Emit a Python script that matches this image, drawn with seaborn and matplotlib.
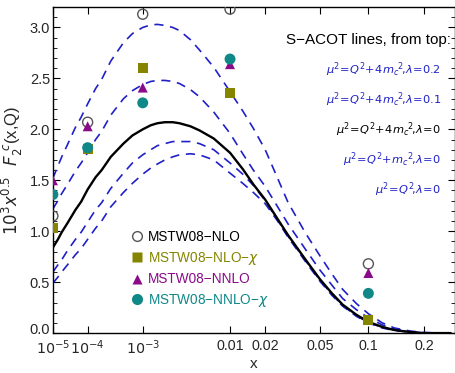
import numpy as np
import pandas as pd
import matplotlib
matplotlib.use("Agg")
import matplotlib.pyplot as plt
import matplotlib.transforms as mtrans
import seaborn as sns
from matplotlib.lines import Line2D

sns.set_theme(style="ticks")
plt.rcParams['font.family'] = ['Liberation Sans', 'DejaVu Sans']
plt.rcParams['mathtext.fontset'] = 'dejavusans'

# ---- data ----
curve_x = [1e-5, 1.5e-5, 2e-5, 3e-5, 5e-5, 7e-5, 1e-4, 1.5e-4, 2e-4, 3e-4, 5e-4, 7e-4,
           1e-3, 1.3e-3, 1.6e-3, 2e-3, 2.5e-3, 3e-3, 4e-3, 5e-3, 7e-3, 0.01, 0.013, 0.016,
           0.02, 0.025, 0.03, 0.04, 0.05, 0.06, 0.07, 0.085, 0.1, 0.12, 0.14, 0.17, 0.2,
           0.24, 0.27]
lam02 = [1.52, 1.64, 1.73, 1.85, 2.02, 2.12, 2.25, 2.40, 2.49, 2.67, 2.85, 2.94,
         3.00, 3.025, 3.03, 3.02, 3.00, 2.97, 2.88, 2.78, 2.61, 2.37, 2.18, 2.01,
         1.80, 1.52, 1.28, 0.98, 0.76, 0.58, 0.43, 0.29, 0.19, 0.10, 0.05, 0.02, 0.005,
         0.0, 0.0]
lam01 = [1.22, 1.30, 1.37, 1.46, 1.59, 1.67, 1.77, 1.90, 1.98, 2.14, 2.30, 2.38,
         2.44, 2.47, 2.48, 2.48, 2.47, 2.45, 2.39, 2.32, 2.17, 1.96, 1.76, 1.60,
         1.44, 1.24, 1.07, 0.82, 0.62, 0.47, 0.34, 0.23, 0.15, 0.08, 0.04, 0.015, 0.005,
         0.0, 0.0]
lam00 = [0.84, 0.92, 0.99, 1.08, 1.21, 1.29, 1.41, 1.53, 1.60, 1.73, 1.86, 1.94,
         2.00, 2.04, 2.06, 2.07, 2.07, 2.06, 2.03, 1.99, 1.91, 1.77, 1.61, 1.46,
         1.31, 1.12, 0.96, 0.72, 0.53, 0.39, 0.28, 0.18, 0.11, 0.06, 0.03, 0.01, 0.0,
         0.0, 0.0]
mu_m = [0.60, 0.67, 0.72, 0.81, 0.92, 0.99, 1.09, 1.21, 1.28, 1.42, 1.57, 1.67,
        1.75, 1.80, 1.84, 1.86, 1.88, 1.88, 1.88, 1.86, 1.80, 1.67, 1.56, 1.45,
        1.30, 1.11, 0.95, 0.71, 0.52, 0.38, 0.27, 0.17, 0.105, 0.055, 0.03, 0.01, 0.0,
        0.0, 0.0]
mu_q = [0.49, 0.55, 0.60, 0.67, 0.77, 0.83, 0.92, 1.03, 1.10, 1.24, 1.38, 1.47,
        1.56, 1.62, 1.66, 1.70, 1.73, 1.75, 1.76, 1.75, 1.70, 1.57, 1.47, 1.38,
        1.27, 1.10, 0.94, 0.70, 0.51, 0.37, 0.265, 0.165, 0.10, 0.05, 0.025, 0.01, 0.0,
        0.0, 0.0]

pts_x = [1e-5, 1e-4, 1e-3, 0.01, 0.1]
nlo = [1.15, 2.07, 3.13, 3.18, 0.68]
nlo_chi = [1.03, 1.81, 2.60, 2.36, 0.13]
nnlo = [1.50, 2.03, 2.41, 2.64, 0.59]
nnlo_chi = [1.36, 1.82, 2.26, 2.69, 0.39]

tick_vals = [1e-5, 1e-4, 1e-3, 0.01, 0.02, 0.05, 0.1, 0.2]
tick_labels = [r'$10^{-5}$', r'$10^{-4}$', r'$10^{-3}$', '0.01', '0.02', '0.05', '0.1', '0.2']

blue = '#2020c8'
olive = '#858500'
purple = '#8a0a8a'
teal = '#108888'

fig = plt.figure(figsize=(4.56, 3.73), dpi=100)
ax = fig.add_axes([0.116, 0.107, 0.882, 0.874])
ax.set_xscale('function', functions=(lambda v: np.power(np.clip(v, 0, None), 0.2),
                                     lambda v: np.power(np.clip(v, 0, None), 5)))

n = len(curve_x)
curves = pd.DataFrame({'x': curve_x * 5,
                       'y': lam02 + lam01 + lam00 + mu_m + mu_q,
                       'c': ['a'] * n + ['b'] * n + ['c'] * n + ['d'] * n + ['e'] * n})
for key, col, ls, lw in [('a', blue, (0, (5.5, 4)), 1.2), ('b', blue, (0, (5.5, 4)), 1.2),
                         ('d', blue, (0, (5.5, 4)), 1.2), ('e', blue, (0, (5.5, 4)), 1.2),
                         ('c', 'black', '-', 1.7)]:
    sub = curves[curves.c == key]
    sns.lineplot(data=sub, x='x', y='y', ax=ax, color=col, lw=lw,
                 linestyle=ls, estimator=None, sort=False)

ms = 52
sns.scatterplot(x=pts_x, y=nlo, ax=ax, marker='o', s=ms, facecolor='none',
                edgecolor='#555555', linewidth=1.0, zorder=5)
sns.scatterplot(x=pts_x, y=nlo_chi, ax=ax, marker='s', s=ms, color=olive, edgecolor='none', zorder=5)
sns.scatterplot(x=pts_x, y=nnlo, ax=ax, marker='^', s=ms, color=purple, edgecolor='none', zorder=5)
sns.scatterplot(x=pts_x, y=nnlo_chi, ax=ax, marker='o', s=ms + 10, color=teal, edgecolor='none', zorder=6)

ax.set_xlim(1e-5, 0.283)
ax.set_ylim(0, 3.2)
ax.set_xticks(tick_vals)
ax.set_xticklabels(tick_labels)
ax.set_yticks(np.arange(0, 3.01, 0.5))
ax.set_yticklabels([f'{v:.1f}' for v in np.arange(0, 3.01, 0.5)])
ax.set_yticks(np.arange(0, 3.2, 0.1), minor=True)
ax.xaxis.set_minor_locator(matplotlib.ticker.NullLocator())
ax.tick_params(axis='both', which='both', direction='in', top=True, right=True,
               labelsize=10.5, color='black')
ax.tick_params(axis='x', pad=4, labelsize=10.3)
ax.tick_params(axis='y', pad=2)
ax.tick_params(which='major', length=5, width=0.8)
ax.tick_params(which='minor', length=3, width=0.6)
for s in ax.spines.values():
    s.set_linewidth(1.0)
    s.set_color('black')

# nudge the "0.0" label slightly up so it does not touch the 10^-5 label
lbl0 = ax.get_yticklabels()[0]
lbl0.set_transform(lbl0.get_transform() + mtrans.ScaledTranslation(0, 3 / 72, fig.dpi_scale_trans))

ax.set_xlabel('x', fontsize=11, labelpad=0.0)
ax.set_ylabel(r'$10^3x^{0.5}\ \ F_2^{\ c}$(x,Q)', fontsize=12, labelpad=3)

ax.text(0.99, 0.899, 'S\u2212ACOT lines, from top:', transform=ax.transAxes,
        ha='right', va='center', fontsize=11, color='black')
labs = [(r'$\mu^2\!=\!Q^2\!+\!4m_c{}^2\!,\!\lambda\!=\!0.2$', blue),
        (r'$\mu^2\!=\!Q^2\!+\!4m_c{}^2\!,\!\lambda\!=\!0.1$', blue),
        (r'$\mu^2\!=\!Q^2\!+\!4m_c{}^2\!,\!\lambda\!=\!0$', 'black'),
        (r'$\mu^2\!=\!Q^2\!+\!m_c{}^2\!,\!\lambda\!=\!0$', blue),
        (r'$\mu^2\!=\!Q^2\!,\!\lambda\!=\!0$', blue)]
for i, (t, c) in enumerate(labs):
    ax.text(0.965, 0.807 - i * 0.092, t, transform=ax.transAxes, ha='right', va='center',
            fontsize=8.2, color=c)

handles = [Line2D([], [], marker='o', ls='none', mfc='none', mec='#555555', ms=7),
           Line2D([], [], marker='s', ls='none', mfc=olive, mec='none', ms=7),
           Line2D([], [], marker='^', ls='none', mfc=purple, mec='none', ms=7),
           Line2D([], [], marker='o', ls='none', mfc=teal, mec='none', ms=8)]
names = ['MSTW08\u2212NLO', 'MSTW08\u2212NLO\u2212$\\chi$', 'MSTW08\u2212NNLO', 'MSTW08\u2212NNLO\u2212$\\chi$']
leg = ax.legend(handles, names, loc='upper left', bbox_to_anchor=(0.19, 0.325), frameon=False,
                fontsize=9.8, handlelength=0.8, handletextpad=0.35, labelspacing=0.42,
                borderpad=0.2, borderaxespad=0.0,
                labelcolor=['black', olive, purple, teal])

fig.savefig('out.png', dpi=100)
